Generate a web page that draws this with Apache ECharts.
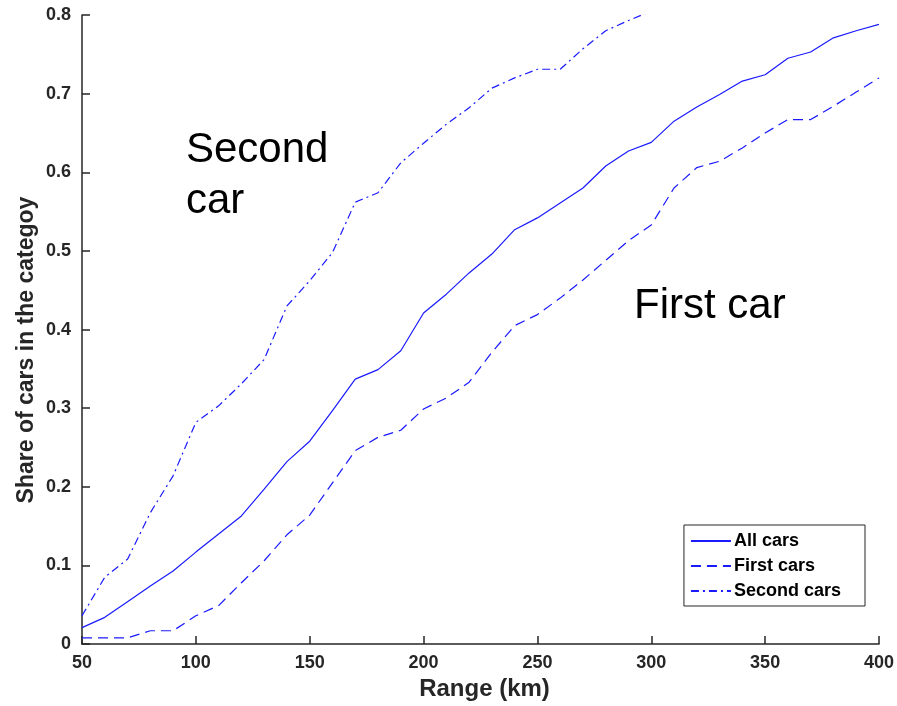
<!DOCTYPE html>
<html>
<head>
<meta charset="utf-8">
<script src="https://cdn.jsdelivr.net/npm/echarts@6/dist/echarts.min.js"></script>
<style>
html,body{margin:0;padding:0;background:#fff;}
#chart{width:897px;height:706px;}
</style>
</head>
<body>
<div id="chart"></div>
<script>
var ranges = [50,60,70,80,90,100,110,120,130,140,150,160,170,180,190,200,210,220,230,240,250,260,270,280,290,300,310,320,330,340,350,360,370,380,390,400];
var allCars = [0.021,0.034,0.054,0.074,0.093,0.117,0.140,0.163,0.197,0.232,0.258,0.297,0.337,0.349,0.373,0.421,0.445,0.472,0.496,0.527,0.542,0.561,0.580,0.608,0.627,0.638,0.665,0.683,0.699,0.716,0.724,0.745,0.753,0.771,0.780,0.788];
var firstCars = [0.008,0.008,0.008,0.017,0.017,0.036,0.049,0.078,0.106,0.139,0.164,0.205,0.246,0.263,0.272,0.299,0.313,0.333,0.371,0.405,0.419,0.440,0.463,0.488,0.513,0.533,0.580,0.606,0.614,0.631,0.650,0.667,0.667,0.684,0.702,0.720];
var secondRanges = [50,60,70,80,90,100,110,120,130,140,150,160,170,180,190,200,210,220,230,240,250,260,270,280,290,300];
var secondCars = [0.036,0.085,0.108,0.167,0.214,0.282,0.303,0.331,0.362,0.430,0.462,0.498,0.562,0.574,0.612,0.637,0.661,0.682,0.707,0.720,0.731,0.731,0.757,0.780,0.793,0.805];
var xTicks = [50,100,150,200,250,300,350,400];
var yTicks = [0,0.1,0.2,0.3,0.4,0.5,0.6,0.7,0.8];
var seriesNames = ['All cars','First cars','Second cars'];
var xTitle = 'Range (km)';
var yTitle = 'Share of cars in the categoy';

function pairs(xs, ys){ return ys.map(function(v,i){ return [xs[i], v]; }); }

var lineColor = '#1a1aff';
var axisColor = '#262626';
var font = 'Liberation Sans, Arial, Helvetica';
var chart = echarts.init(document.getElementById('chart'), null, {renderer:'canvas'});
chart.setOption({
  animation:false,
  backgroundColor:'#ffffff',
  grid:{left:82,right:18,top:15,bottom:60,containLabel:false},
  xAxis:{
    type:'value', min:xTicks[0], max:xTicks[xTicks.length-1], interval:50,
    name:xTitle, nameLocation:'middle', nameGap:32,
    nameTextStyle:{fontFamily:font, fontWeight:'bold', fontSize:24, color:axisColor, padding:[0,0,0,8]},
    axisLine:{show:true,onZero:false,lineStyle:{color:axisColor,width:1.5}},
    axisTick:{show:true,inside:true,length:8,lineStyle:{color:axisColor,width:1.5}},
    axisLabel:{margin:10,fontFamily:font,fontWeight:'bold',fontSize:18,color:axisColor},
    splitLine:{show:false}
  },
  yAxis:{
    type:'value', min:yTicks[0], max:yTicks[yTicks.length-1], interval:0.1,
    axisLine:{show:true,onZero:false,lineStyle:{color:axisColor,width:1.5}},
    axisTick:{show:true,inside:true,length:8,lineStyle:{color:axisColor,width:1.5}},
    axisLabel:{margin:11,fontFamily:font,fontWeight:'bold',fontSize:18,color:axisColor},
    splitLine:{show:false}
  },
  legend:{
    show:true,
    data:seriesNames,
    orient:'vertical',
    right:32, bottom:100,
    itemWidth:40, itemHeight:12, itemGap:7,
    padding:[7,24,6,6],
    borderColor:axisColor, borderWidth:1, backgroundColor:'#ffffff',
    itemStyle:{opacity:0},
    textStyle:{fontFamily:font,fontWeight:'bold',fontSize:18,color:'#000',padding:[0,0,0,-2]}
  },
  series:[
    {name:seriesNames[0],type:'line',data:pairs(ranges,allCars),symbol:'none',showSymbol:false,
     lineStyle:{color:lineColor,width:1.2,type:'solid'},itemStyle:{color:lineColor}},
    {name:seriesNames[1],type:'line',data:pairs(ranges,firstCars),symbol:'none',showSymbol:false,
     lineStyle:{color:lineColor,width:1.2,type:[10,6]},itemStyle:{color:lineColor}},
    {name:seriesNames[2],type:'line',data:pairs(secondRanges,secondCars),symbol:'none',showSymbol:false,clip:true,
     lineStyle:{color:lineColor,width:1.2,type:[8,4,2,4]},itemStyle:{color:lineColor}}
  ],
  graphic:[
    {type:'text',x:27,y:350,rotation:Math.PI/2,style:{text:yTitle,fontFamily:font,fontWeight:'bold',fontSize:23,fill:axisColor,align:'center',verticalAlign:'middle'}},
    {type:'text',left:186,top:125,style:{text:'Second\ncar',fontFamily:font,fontSize:42,lineHeight:51,fill:'#000'}},
    {type:'text',left:634,top:285,style:{text:'First car',fontFamily:font,fontSize:42,fill:'#000'}}
  ]
});
</script>
</body>
</html>
